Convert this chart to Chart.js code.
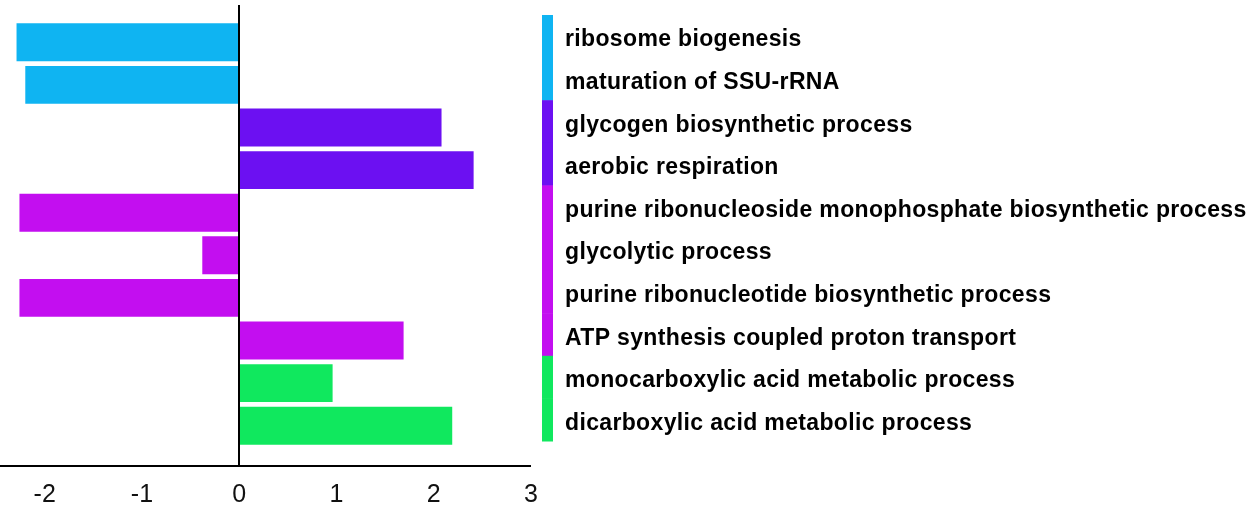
<!DOCTYPE html>
<html>
<head>
<meta charset="utf-8">
<script src="https://cdn.jsdelivr.net/npm/chart.js@4"></script>
<style>
  html, body { margin: 0; padding: 0; background: #fff; }
  #wrap { width: 1251px; height: 509px; position: relative; }
</style>
</head>
<body>
<div id="wrap"><canvas id="goChart"></canvas></div>
<script>
// GO terms, top to bottom
const terms = [
    'ribosome biogenesis',
    'maturation of SSU-rRNA',
    'glycogen biosynthetic process',
    'aerobic respiration',
    'purine ribonucleoside monophosphate biosynthetic process',
    'glycolytic process',
    'purine ribonucleotide biosynthetic process',
    'ATP synthesis coupled proton transport',
    'monocarboxylic acid metabolic process',
    'dicarboxylic acid metabolic process'
];
const scores = [-2.29, -2.20, 2.08, 2.41, -2.26, -0.38, -2.26, 1.69, 0.96, 2.19];
// group index of each term
const groupOf = [0, 0, 1, 1, 2, 2, 2, 2, 3, 3];
const groupColors = ['#0fb4f2', '#6c10f2', '#c30ef0', '#10e85e'];
const xTicks = [-2, -1, 0, 1, 2, 3];

const barColors = groupOf.map(g => groupColors[g]);

// side strip, term labels and axis lines
const decor = {
    id: 'decor',
    afterDatasetsDraw(chart) {
        const { ctx, chartArea, scales } = chart;
        const y = scales.y, x = scales.x;
        const pitch = y.getPixelForValue(1) - y.getPixelForValue(0);
        ctx.save();
        terms.forEach((t, i) => {
            const top = y.getPixelForValue(i) - pitch / 2 - 6;
            ctx.fillStyle = groupColors[groupOf[i]];
            ctx.fillRect(chartArea.right + 11, top, 11, pitch + 0.5);
        });
        ctx.fillStyle = '#000';
        ctx.font = 'bold 23px "Liberation Sans", Arial, sans-serif';
        ctx.letterSpacing = '0.35px';
        ctx.textBaseline = 'alphabetic';
        ctx.textAlign = 'left';
        terms.forEach((t, i) => {
            ctx.fillText(t, chartArea.right + 34, y.getPixelForValue(i) + 4);
        });
        const x0 = Math.round(x.getPixelForValue(0));
        ctx.fillRect(x0 - 1, chartArea.top - 16, 2, chartArea.bottom - chartArea.top + 36);
        ctx.fillRect(chartArea.left, chartArea.bottom + 18, chartArea.right - chartArea.left, 2);
        ctx.restore();
    }
};

new Chart(document.getElementById('goChart'), {
    type: 'bar',
    data: {
        labels: terms,
        datasets: [{
            data: scores,
            backgroundColor: barColors,
            borderWidth: 0,
            categoryPercentage: 1,
            barPercentage: 0.89
        }]
    },
    options: {
        indexAxis: 'y',
        responsive: true,
        maintainAspectRatio: false,
        animation: false,
        layout: { padding: { top: 21, bottom: 0, left: 0, right: 0 } },
        plugins: { legend: { display: false }, tooltip: { enabled: false } },
        scales: {
            x: {
                min: -2.46,
                max: 3,
                grid: { display: false, drawTicks: false },
                border: { display: false },
                ticks: {
                    stepSize: 1,
                    includeBounds: false,
                    maxRotation: 0,
                    padding: 33,
                    color: '#111',
                    font: { family: 'Liberation Sans, Arial, sans-serif', size: 25 }
                },
                afterBuildTicks: s => { s.ticks = xTicks.map(v => ({ value: v })); },
                afterFit: s => { s.height = 62; s.paddingLeft = 0; s.paddingRight = 0; }
            },
            y: {
                position: 'right',
                grid: { display: false, drawTicks: false },
                border: { display: false },
                ticks: { display: false },
                afterFit: s => { s.width = 720; s.paddingTop = 0; s.paddingBottom = 0; }
            }
        }
    },
    plugins: [decor]
});
</script>
</body>
</html>
